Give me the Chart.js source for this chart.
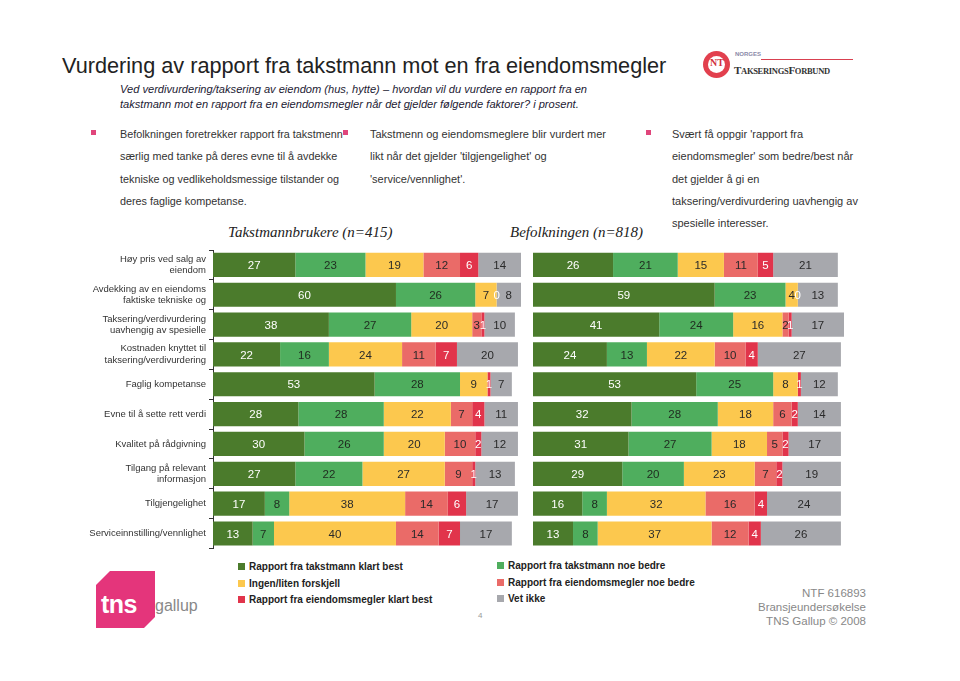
<!DOCTYPE html>
<html>
<head>
<meta charset="utf-8">
<script src="https://cdn.jsdelivr.net/npm/chart.js@4.4.0/dist/chart.umd.min.js"></script>
<style>
  body { margin: 0; background: #fff; font-family: "Liberation Sans", Arial, sans-serif; }
  #page { position: relative; width: 960px; height: 681px; overflow: hidden; background: #fff; }
  .abs { position: absolute; }
  #title { left: 62px; top: 53px; font-size: 21.7px; color: #222; white-space: nowrap; }
  #sub { left: 120px; top: 82px; font-size: 11.1px; font-style: italic; color: #231a33; line-height: 15px; }
  .col { top: 123px; font-size: 11px; color: #333; line-height: 22.3px; }
  .bul { width: 5px; height: 5px; background: #e0457b; }
  .grp { top: 224px; font-family: "Liberation Serif", serif; font-style: italic; font-size: 15px; color: #222; }
  .leg { font-size: 10px; font-weight: bold; color: #222; line-height: 16.5px; }
  .leg span { display: inline-block; width: 7px; height: 7px; margin-right: 4px; }
  #foot { right: 94px; top: 586px; text-align: right; font-size: 11.5px; color: #888; line-height: 14px; }
</style>
</head>
<body>
<div id="page">
  <div id="title" class="abs">Vurdering av rapport fra takstmann mot en fra eiendomsmegler</div>
  <div id="sub" class="abs">Ved verdivurdering/taksering av eiendom (hus, hytte) – hvordan vil du vurdere en rapport fra en<br>takstmann mot en rapport fra en eiendomsmegler når det gjelder følgende faktorer? i prosent.</div>

  <!-- NTF logo -->
  <div class="abs" style="left:703px;top:51px;width:27px;height:27px;border-radius:50%;background:#e2404e;"></div>
  <div class="abs" style="left:708px;top:56px;width:17px;height:17px;border-radius:50%;background:#fff;"></div>
  <div class="abs" style="left:707px;top:57px;width:20px;font:bold 10px 'Liberation Serif',serif;color:#d2303e;text-align:center;">NT</div>
  <div class="abs" style="left:735px;top:51px;font:bold 6px 'Liberation Sans',sans-serif;color:#8a8aa8;">NORGES</div>
  <div class="abs" style="left:761px;top:59px;width:92px;height:1px;background:#d94050;"></div>
  <div class="abs" style="left:734px;top:64px;font:bold 11px 'Liberation Serif',serif;color:#333;letter-spacing:-0.3px;">T<span style="font-size:8.5px">AKSERINGS</span>F<span style="font-size:8.5px">ORBUND</span></div>

  <!-- bullets -->
  <div class="abs bul" style="left:91px;top:130px;"></div>
  <div class="abs col" style="left:120px;font-size:10.8px;">Befolkningen foretrekker rapport fra takstmenn<br>særlig med tanke på deres evne til å avdekke<br>tekniske og vedlikeholdsmessige tilstander og<br>deres faglige kompetanse.</div>
  <div class="abs bul" style="left:343px;top:130px;"></div>
  <div class="abs col" style="left:370px;">Takstmenn og eiendomsmeglere blir vurdert mer<br>likt når det gjelder 'tilgjengelighet' og<br>'service/vennlighet'.</div>
  <div class="abs bul" style="left:646px;top:130px;"></div>
  <div class="abs col" style="left:672px;">Svært få oppgir 'rapport fra<br>eiendomsmegler' som bedre/best når<br>det gjelder å gi en<br>taksering/verdivurdering uavhengig av<br>spesielle interesser.</div>

  <div class="abs grp" style="left:228px;">Takstmannbrukere (<i>n</i>=415)</div>
  <div class="abs grp" style="left:510px;">Befolkningen (<i>n</i>=818)</div>

  <div class="abs" style="left:60px;top:245px;width:470px;height:310px;"><canvas id="leftChart"></canvas></div>
  <div class="abs" style="left:525px;top:245px;width:330px;height:310px;"><canvas id="rightChart"></canvas></div>

  <div class="abs leg" style="left:238px;top:559px;">
    <div><span style="background:#4b7b2c"></span>Rapport fra takstmann klart best</div>
    <div><span style="background:#fcc84e"></span>Ingen/liten forskjell</div>
    <div><span style="background:#e1344b"></span>Rapport fra eiendomsmegler klart best</div>
  </div>
  <div class="abs leg" style="left:497px;top:558px;">
    <div><span style="background:#4fae5e"></span>Rapport fra takstmann noe bedre</div>
    <div><span style="background:#ea6b68"></span>Rapport fra eiendomsmegler noe bedre</div>
    <div><span style="background:#a7a8ad"></span>Vet ikke</div>
  </div>
  <div class="abs" style="left:478px;top:611px;font-size:8px;color:#999;">4</div>

  <div id="foot" class="abs">NTF 616893<br>Bransjeundersøkelse<br>TNS Gallup © 2008</div>

  <!-- tns gallup logo -->
  <div class="abs" style="left:96px;top:571px;width:59px;height:57px;background:#e4357b;clip-path:polygon(14px 0,59px 0,59px 46px,48px 57px,0 57px,0 14px);"></div>
  <div class="abs" style="left:101px;top:590px;font:bold 25px 'Liberation Sans',sans-serif;color:#fff;letter-spacing:-0.5px;">tns</div>
  <div class="abs" style="left:155px;top:597px;font:16px 'Liberation Sans',sans-serif;color:#888;">gallup</div>
</div>

<script>
const categories = [
    ["Høy pris ved salg av", "eiendom"],
    ["Avdekking av en eiendoms", "faktiske tekniske og"],
    ["Taksering/verdivurdering", "uavhengig av spesielle"],
    ["Kostnaden knyttet til", "taksering/verdivurdering"],
    "Faglig kompetanse",
    "Evne til å sette rett verdi",
    "Kvalitet på rådgivning",
    ["Tilgang på relevant", "informasjon"],
    "Tilgjengelighet",
    "Serviceinnstilling/vennlighet",
];

const seriesNames = [
    "Rapport fra takstmann klart best",
    "Rapport fra takstmann noe bedre",
    "Ingen/liten forskjell",
    "Rapport fra eiendomsmegler noe bedre",
    "Rapport fra eiendomsmegler klart best",
    "Vet ikke",
];

// Takstmannbrukere (n=415)
const userKlartTakst = [27, 60, 38, 22, 53, 28, 30, 27, 17, 13];
const userNoeTakst = [23, 26, 27, 16, 28, 28, 26, 22, 8, 7];
const userIngen = [19, 7, 20, 24, 9, 22, 20, 27, 38, 40];
const userNoeMegler = [12, null, 3, 11, null, 7, 10, 9, 14, 14];
const userKlartMegler = [6, 0, 1, 7, 1, 4, 2, 1, 6, 7];
const userVetIkke = [14, 8, 10, 20, 7, 11, 12, 13, 17, 17];

// Befolkningen (n=818)
const popKlartTakst = [26, 59, 41, 24, 53, 32, 31, 29, 16, 13];
const popNoeTakst = [21, 23, 24, 13, 25, 28, 27, 20, 8, 8];
const popIngen = [15, 4, 16, 22, 8, 18, 18, 23, 32, 37];
const popNoeMegler = [11, null, 2, 10, null, 6, 5, 7, 16, 12];
const popKlartMegler = [5, 0, 1, 4, 1, 2, 2, 2, 4, 4];
const popVetIkke = [21, 13, 17, 27, 12, 14, 17, 19, 24, 26];

const colors = ["#4b7b2c", "#4fae5e", "#fcc84e", "#ea6b68", "#e1344b", "#a7a8ad"];
const labelColors = ["#fff", "#1f2a1f", "#2a2a2a", "#2a2a2a", "#fff", "#2a2a2a"];

// numbers in the middle of each segment
const segmentLabels = {
    id: "segmentLabels",
    afterDatasetsDraw(chart) {
        const ctx = chart.ctx;
        ctx.save();
        ctx.font = "11.5px 'Liberation Sans', Arial, sans-serif";
        ctx.textAlign = "center";
        ctx.textBaseline = "middle";
        chart.data.datasets.forEach((ds, i) => {
            const meta = chart.getDatasetMeta(i);
            meta.data.forEach((bar, j) => {
                const v = ds.data[j];
                if (v === null || v === undefined) return;
                ctx.fillStyle = labelColors[i];
                ctx.fillText(v, (bar.x + bar.base) / 2, bar.y + 1);
            });
        });
        ctx.restore();
    },
};

function makeDatasets(series) {
    return series.map((data, i) => ({
        label: seriesNames[i],
        data: data,
        backgroundColor: colors[i],
        borderWidth: 0,
        categoryPercentage: 1,
        barPercentage: 0.81,
    }));
}

function makeChart(id, series, showAxis, padding) {
    const yAxis = {
        stacked: true,
        display: showAxis,
        border: { display: true, color: "#333", width: 1 },
        grid: { drawOnChartArea: false, drawTicks: true, tickLength: 4, color: "#333", offset: true },
        ticks: { padding: 3, color: "#333", font: { family: "'Liberation Sans', Arial, sans-serif", size: 9.5 } },
    };
    if (showAxis) {
        // fixed label column, no extra room for the first/last label
        yAxis.afterFit = (scale) => {
            scale.width = 153;
            scale.paddingTop = 0;
            scale.paddingBottom = 0;
        };
    }
    return new Chart(document.getElementById(id), {
        type: "bar",
        data: { labels: categories, datasets: makeDatasets(series) },
        options: {
            indexAxis: "y",
            responsive: true,
            maintainAspectRatio: false,
            animation: false,
            layout: { padding: padding },
            plugins: { legend: { display: false }, tooltip: { enabled: false } },
            scales: {
                x: { stacked: true, min: 0, max: 101, display: false },
                y: yAxis,
            },
        },
        plugins: [segmentLabels],
    });
}

makeChart("leftChart",
    [userKlartTakst, userNoeTakst, userIngen, userNoeMegler, userKlartMegler, userVetIkke],
    true, { top: 5, bottom: 6.6, right: 9, left: 0 });
makeChart("rightChart",
    [popKlartTakst, popNoeTakst, popIngen, popNoeMegler, popKlartMegler, popVetIkke],
    false, { top: 5, bottom: 6.6, right: 11, left: 8 });
</script>
</body>
</html>
